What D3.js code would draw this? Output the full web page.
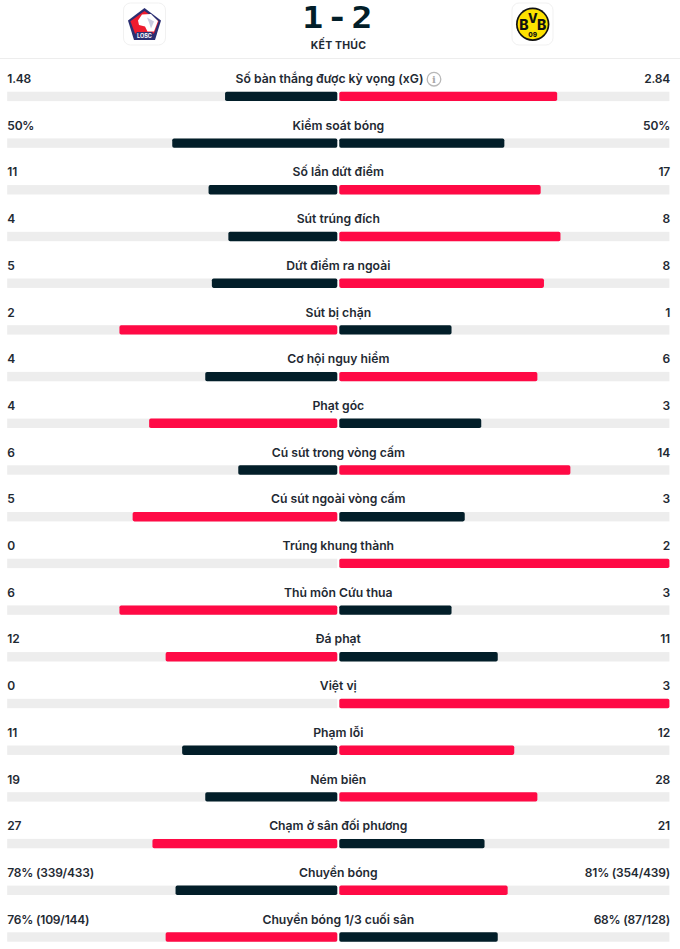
<!DOCTYPE html>
<html>
<head>
<meta charset="utf-8">
<script src="https://cdn.jsdelivr.net/npm/d3@7"></script>
<style>
  body { margin: 0; background: #fff; }
  svg { display: block; }
  text { font-family: Inter, "Noto Sans", sans-serif; fill: #1f2a33; }
</style>
</head>
<body>
<svg id="chart"></svg>
<script>
// Chart data
const statNames = [
    'Số bàn thắng được kỳ vọng (xG)', 'Kiểm soát bóng', 'Số lần dứt điểm', 'Sút trúng đích',
    'Dứt điểm ra ngoài', 'Sút bị chặn', 'Cơ hội nguy hiểm', 'Phạt góc', 'Cú sút trong vòng cấm',
    'Cú sút ngoài vòng cấm', 'Trúng khung thành', 'Thủ môn Cứu thua', 'Đá phạt', 'Việt vị',
    'Phạm lỗi', 'Ném biên', 'Chạm ở sân đối phương', 'Chuyền bóng', 'Chuyền bóng 1/3 cuối sân'
];
const homeLabels = ['1.48', '50%', '11', '4', '5', '2', '4', '4', '6', '5', '0', '6', '12', '0', '11', '19', '27', '78% (339/433)', '76% (109/144)'];
const awayLabels = ['2.84', '50%', '17', '8', '8', '1', '6', '3', '14', '3', '2', '3', '11', '3', '12', '28', '21', '81% (354/439)', '68% (87/128)'];
// Bar lengths in percent of one half
const homeShare = [34, 50, 39, 33, 38, 66, 40, 57, 30, 62, 0, 66, 52, 0, 47, 40, 56, 49, 52];
const awayShare = [66, 50, 61, 67, 62, 34, 60, 43, 70, 38, 100, 34, 48, 100, 53, 60, 44, 51, 48];
// Which side has the red bar
const leaders = ['away', 'none', 'away', 'away', 'away', 'home', 'away', 'home', 'away', 'home', 'away', 'home', 'home', 'away', 'away', 'away', 'home', 'away', 'home'];
const scoreText = '1 - 2';
const statusText = 'KẾT THÚC';

const width = 680;
const height = 949;
const barHeight = 9.4;
const winColor = '#ff0a45';
const loseColor = '#021e29';
const trackColor = '#ededed';

const svg = d3.select('#chart').attr('width', width).attr('height', height);

// Scales
const yScale = d3.scalePoint().domain(statNames).range([91.7, 932.3]);
const homeX = d3.scaleLinear().domain([0, 100]).range([337.3, 7.2]);
const awayX = d3.scaleLinear().domain([0, 100]).range([339.3, 669.4]);

const rows = statNames.map((name, i) => ({
    name,
    homeShare: homeShare[i],
    awayShare: awayShare[i],
    leader: leaders[i],
    homeLabel: homeLabels[i],
    awayLabel: awayLabels[i]
}));

// Header
svg.append('line')
    .attr('x1', 0).attr('x2', width)
    .attr('y1', 58.5).attr('y2', 58.5)
    .attr('stroke', '#ededed');

svg.append('text')
    .attr('transform', 'translate(333,27.6) scale(1.2,1.03)')
    .attr('text-anchor', 'middle')
    .style('font-family', '"DejaVu Sans Mono", monospace')
    .attr('font-size', 29)
    .attr('font-weight', 700)
    .attr('letter-spacing', -7.2)
    .style('fill', loseColor)
    .text(scoreText);

svg.append('text')
    .attr('x', 338.5).attr('y', 49)
    .attr('text-anchor', 'middle')
    .attr('font-size', 10.5)
    .attr('font-weight', 700)
    .attr('letter-spacing', 0.2)
    .text(statusText);

// Lille badge
const lille = svg.append('g').attr('transform', 'translate(123,2.5)');
lille.append('rect').attr('x', 0.5).attr('y', 0.5).attr('width', 42).attr('height', 42).attr('rx', 7)
    .attr('fill', '#fff').attr('stroke', '#f1f1f1');
lille.append('path').attr('d', 'M21.5 5.5 L38 18 L32 37.5 L11 37.5 L5 18 Z').attr('fill', '#2b2f72');
lille.append('path').attr('d', 'M21.5 8.5 L35.6 18.8 L31 31 L12 31 L7.4 18.8 Z').attr('fill', '#ee1c2e');
lille.append('path').attr('d', 'M19 12 L28 11.5 L35 18.5 L31 29 L24.5 29 L22 24 L16 22.5 L15 18 Z').attr('fill', '#fff');
lille.append('path').attr('d', 'M24 15 L31 19 L28 26 L26 20 Z').attr('fill', '#c9cce0');
lille.append('rect').attr('x', 13.5).attr('y', 29.5).attr('width', 16).attr('height', 6.5).attr('fill', '#2b2f72');
lille.append('text').attr('x', 21.5).attr('y', 35).attr('text-anchor', 'middle')
    .attr('font-size', 5.5).attr('font-weight', 700).style('fill', '#fff').text('LOSC');

// Dortmund badge
const bvb = svg.append('g').attr('transform', 'translate(511.5,2.5)');
bvb.append('rect').attr('x', 0.5).attr('y', 0.5).attr('width', 41).attr('height', 42).attr('rx', 7)
    .attr('fill', '#fff').attr('stroke', '#f1f1f1');
bvb.append('circle').attr('cx', 21.2).attr('cy', 21.7).attr('r', 16.7).attr('fill', '#111');
bvb.append('circle').attr('cx', 21.2).attr('cy', 21.7).attr('r', 15).attr('fill', '#fde100');
[['B', 12.3, 27, 14], ['V', 21.2, 20.5, 12.5], ['B', 30.1, 27, 14], ['09', 21.2, 34.2, 6.5]].forEach(d => {
    bvb.append('text').attr('x', d[1]).attr('y', d[2]).attr('text-anchor', 'middle')
        .attr('font-size', d[3]).attr('font-weight', 800).style('fill', '#111').text(d[0]);
});

// Rows
const row = svg.selectAll('.stat-row')
    .data(rows)
    .enter()
    .append('g')
    .attr('class', 'stat-row')
    .attr('transform', d => `translate(0, ${yScale(d.name)})`);

// Background tracks
row.append('rect')
    .attr('x', homeX(100))
    .attr('width', homeX(0) - homeX(100))
    .attr('height', barHeight)
    .attr('fill', trackColor);

row.append('rect')
    .attr('x', awayX(0))
    .attr('width', awayX(100) - awayX(0))
    .attr('height', barHeight)
    .attr('fill', trackColor);

// Value bars, red for the side that leads
row.append('rect')
    .attr('x', d => homeX(d.homeShare))
    .attr('width', d => homeX(0) - homeX(d.homeShare))
    .attr('height', barHeight)
    .attr('rx', 1.8)
    .attr('fill', d => d.leader === 'home' ? winColor : loseColor);

row.append('rect')
    .attr('x', awayX(0))
    .attr('width', d => awayX(d.awayShare) - awayX(0))
    .attr('height', barHeight)
    .attr('rx', 1.8)
    .attr('fill', d => d.leader === 'away' ? winColor : loseColor);

// Text
const textY = -8.7;
row.append('text')
    .attr('class', 'home-label')
    .attr('x', 7.3).attr('y', textY)
    .attr('font-size', 12).attr('font-weight', 600)
    .attr('letter-spacing', -0.2)
    .text(d => d.homeLabel);

row.append('text')
    .attr('class', 'away-label')
    .attr('x', 670).attr('y', textY)
    .attr('text-anchor', 'end')
    .attr('font-size', 12).attr('font-weight', 600)
    .attr('letter-spacing', -0.2)
    .text(d => d.awayLabel);

row.append('text')
    .attr('class', 'stat-name')
    .attr('x', d => d.name === statNames[0] ? 329.5 : 338.3)
    .attr('y', textY)
    .attr('text-anchor', 'middle')
    .attr('font-size', 12.2).attr('font-weight', 600)
    .text(d => d.name);

// Info icon next to the xG label
const info = svg.append('g').attr('transform', `translate(434, ${yScale(statNames[0]) - 12.5})`);
info.append('circle').attr('r', 6.8).attr('fill', 'none').attr('stroke', '#b8b8b8').attr('stroke-width', 1.3);
info.append('text').attr('y', 3.6).attr('text-anchor', 'middle')
    .style('font-family', '"DejaVu Serif", serif')
    .attr('font-size', 10).attr('font-weight', 700).style('fill', '#a8a8a8').text('i');
</script>
</body>
</html>
